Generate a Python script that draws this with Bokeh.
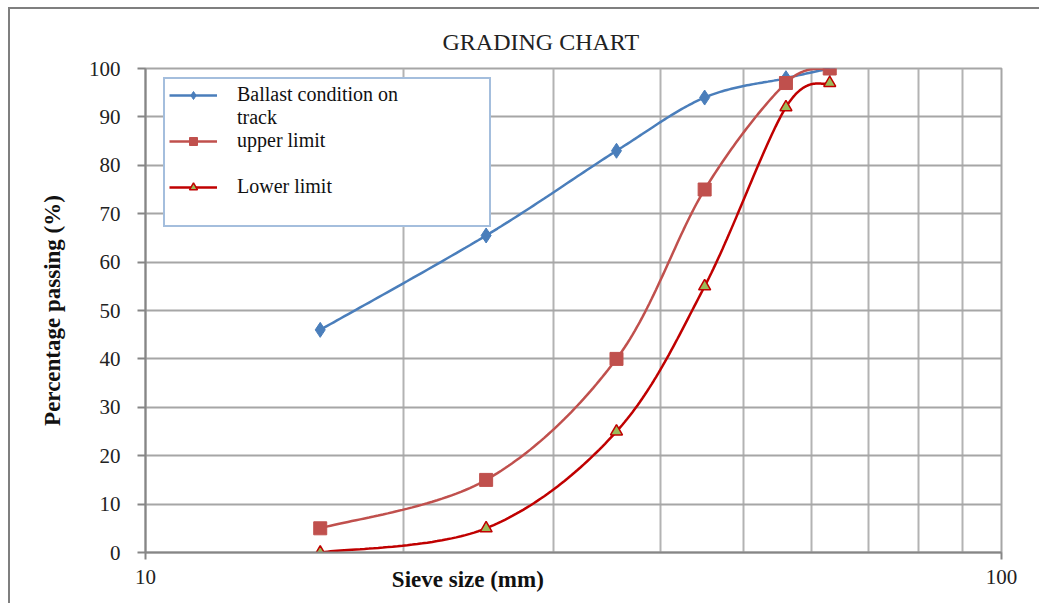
import numpy as np
from bokeh.plotting import figure
from bokeh.models import (Range1d, FixedTicker, Legend, LegendItem, LogAxis)
from bokeh.embed import file_html
from bokeh.resources import INLINE

# ---- data ----
sieve_mm = [16, 25, 35.5, 45, 56, 63]
ballast = [46, 65.5, 83, 94, 98, 100]
upper_limit = [5, 15, 40, 75, 97, 100]
lower_limit = [0, 5, 25, 55, 92, 97]
y_ticks = [0, 10, 20, 30, 40, 50, 60, 70, 80, 90, 100]
x_major = [10, 100]
x_minor = [20, 30, 40, 50, 60, 70, 80, 90]
series_names = ["Ballast condition on", "upper limit", "Lower limit"]
wrapped_tail = "track"   # second line of the first legend entry
x_title = "Sieve size (mm)"
x_title_at = 23.8        # where the x title sits along the axis (left of centre)

SERIF = "Liberation Serif"


def smooth(xs, ys, n=40):
    """Excel-like smoothed line (Bezier through points, in log-x space)."""
    P = np.column_stack([np.log10(np.asarray(xs, float)), np.asarray(ys, float)])
    out = []
    t = np.linspace(0, 1, n)[:, None]
    for i in range(len(P) - 1):
        p0 = P[i - 1] if i > 0 else P[i]
        p1, p2 = P[i], P[i + 1]
        p3 = P[i + 2] if i + 2 < len(P) else P[i + 1]
        c1 = p1 + (p2 - p0) / 6.0
        c2 = p2 - (p3 - p1) / 6.0
        B = (1 - t) ** 3 * p1 + 3 * (1 - t) ** 2 * t * c1 + 3 * (1 - t) * t ** 2 * c2 + t ** 3 * p2
        out.append(B if i == 0 else B[1:])
    B = np.vstack(out)
    return 10 ** B[:, 0], B[:, 1]


p = figure(width=1031, height=596, x_axis_type="log",
           x_range=Range1d(10, 100), y_range=Range1d(0, 100),
           output_backend="svg", toolbar_location=None,
           min_border_left=135, min_border_right=40,
           min_border_top=59, min_border_bottom=53)
p.margin = (7, 0, 0, 8)
p.styles = {"border-top": "2px solid #7f7f7f", "border-left": "2px solid #7f7f7f"}
p.stylesheets = ["* { font-family: 'Liberation Serif', serif; } text { font-family: 'Liberation Serif', serif; }"]

p.outline_line_color = "#a6a6a6"
p.outline_line_width = 2
p.background_fill_color = "white"
p.border_fill_color = "white"

# title
p.title.text = "GRADING CHART"
p.title.text_font = SERIF
p.title.text_font_size = "24px"
p.title.text_font_style = "normal"
p.title.text_color = "#222222"
p.title.align = "left"
p.title.offset = 297
p.title.standoff = 27

# axes
xa = p.xaxis[0]
xa.ticker = FixedTicker(ticks=x_major, minor_ticks=x_minor)
xa.major_label_overrides = {10: "10", 100: "100"}
xa.major_label_text_font = SERIF
xa.major_label_text_font_size = "21px"
xa.major_label_text_color = "#222222"
xa.major_label_standoff = 10
xa.major_tick_out = 7
xa.major_tick_in = 0
xa.minor_tick_line_color = None
xa.axis_line_color = "#868686"
xa.axis_line_width = 2
xa.major_tick_line_color = "#868686"
xa.major_tick_line_width = 2

# x title drawn as the only label of a bare second axis, pulled up onto the tick-label row
xt = LogAxis(ticker=FixedTicker(ticks=[x_title_at]),
             major_label_overrides={x_title_at: x_title},
             axis_line_color=None, major_tick_line_color=None, minor_tick_line_color=None,
             major_tick_out=0, major_tick_in=0, major_label_standoff=-20,
             major_label_text_font=SERIF, major_label_text_font_size="23px",
             major_label_text_font_style="bold", major_label_text_color="#111111")
p.add_layout(xt, "below")

ya = p.yaxis[0]
ya.ticker = FixedTicker(ticks=y_ticks)
ya.major_label_text_font = SERIF
ya.major_label_text_font_size = "21px"
ya.major_label_text_color = "#222222"
ya.major_label_standoff = 17
ya.major_tick_out = 8
ya.major_tick_in = 0
ya.minor_tick_line_color = None
ya.axis_line_color = "#868686"
ya.axis_line_width = 2
ya.major_tick_line_color = "#868686"
ya.major_tick_line_width = 2
ya.axis_label = "Percentage passing (%)"
ya.axis_label_text_font = SERIF
ya.axis_label_text_font_size = "23px"
ya.axis_label_text_font_style = "bold"
ya.axis_label_text_color = "#111111"
ya.axis_label_standoff = 21

# grids
p.xgrid.grid_line_color = "#a6a6a6"
p.xgrid.grid_line_width = 2
p.xgrid.minor_grid_line_color = "#b3b3b3"
p.xgrid.minor_grid_line_width = 2
p.ygrid.grid_line_color = "#a6a6a6"
p.ygrid.grid_line_width = 2

# series
bx, by = smooth(sieve_mm, ballast)
ux, uy = smooth(sieve_mm, upper_limit)
lx, ly = smooth(sieve_mm, lower_limit)

r_bl = p.line(bx, by, line_color="#4a7ebb", line_width=2.5)
r_ul = p.line(ux, uy, line_color="#c0504d", line_width=2.5)
r_ll = p.line(lx, ly, line_color="#c00000", line_width=2.5)

r_bm = p.scatter(sieve_mm, ballast, marker="diamond", size=15,
                 fill_color="#4a7ebb", line_color="#4a7ebb")
r_um = p.scatter(sieve_mm, upper_limit, marker="square", size=13,
                 fill_color="#c0504d", line_color="#c0504d")
r_lm = p.scatter(sieve_mm, lower_limit, marker="triangle", size=12,
                 fill_color="#9bbb59", line_color="#c00000", line_width=1.5)

legend = Legend(items=[
    LegendItem(label=series_names[0], renderers=[r_bl, r_bm]),
    LegendItem(label=wrapped_tail, renderers=[]),
    LegendItem(label=series_names[1], renderers=[r_ul, r_um]),
    LegendItem(label=" ", renderers=[]),
    LegendItem(label=series_names[2], renderers=[r_ll, r_lm]),
    LegendItem(label=" ", renderers=[]),
], location=(18, 325))
legend.label_text_font = SERIF
legend.label_text_font_style = "normal"
legend.label_text_font_size = "20px"
legend.label_text_color = "#111111"
legend.border_line_color = "#4a7ebb"
legend.border_line_width = 2
legend.background_fill_color = "white"
legend.background_fill_alpha = 1
legend.padding = 4
legend.spacing = 0
legend.glyph_width = 48
legend.glyph_height = 20
legend.label_standoff = 20
legend.label_width = 248
legend.label_height = 23
legend.margin = 0
p.add_layout(legend, "center")

open("out.html", "w").write(file_html(p, INLINE))
